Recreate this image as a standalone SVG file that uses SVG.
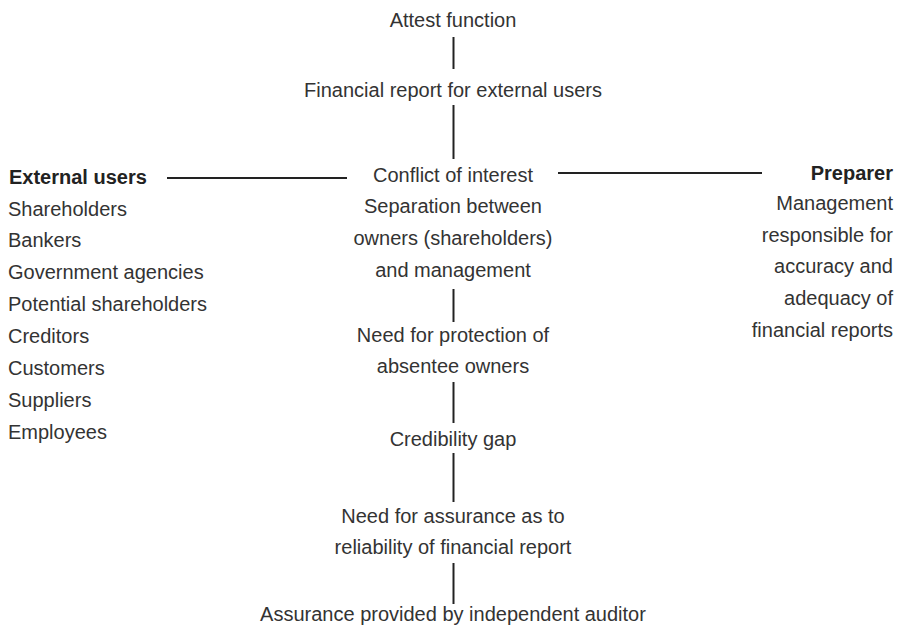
<svg xmlns="http://www.w3.org/2000/svg" width="899" height="626" viewBox="0 0 899 626">
<style>
text{font-family:"Liberation Sans",Arial,sans-serif;font-size:20px;fill:#333;}
.c{text-anchor:middle;}
.r{text-anchor:end;}
.b{font-weight:bold;fill:#222;}
.ln{stroke:#222;stroke-width:2;fill:none;}
</style>
<rect width="899" height="626" fill="#fff"/>
<g id="connectors">
<line class="ln" x1="453.5" y1="37" x2="453.5" y2="69"/>
<line class="ln" x1="453.5" y1="105" x2="453.5" y2="159"/>
<line class="ln" x1="453.5" y1="289" x2="453.5" y2="322"/>
<line class="ln" x1="453.5" y1="382" x2="453.5" y2="423"/>
<line class="ln" x1="453.5" y1="453" x2="453.5" y2="502"/>
<line class="ln" x1="453.5" y1="563" x2="453.5" y2="604"/>
<line class="ln" x1="167" y1="178" x2="347" y2="178"/>
<line class="ln" x1="558" y1="173" x2="762" y2="173"/>
</g>
<g id="attest"><text class="c" x="453" y="27">Attest function</text></g>
<g id="report"><text class="c" x="453" y="97">Financial report for external users</text></g>
<g id="conflict">
<text class="c" x="453" y="182">Conflict of interest</text>
<text class="c" x="453" y="213">Separation between</text>
<text class="c" x="453" y="245">owners (shareholders)</text>
<text class="c" x="453" y="277">and management</text>
</g>
<g id="protection">
<text class="c" x="453" y="342">Need for protection of</text>
<text class="c" x="453" y="373">absentee owners</text>
</g>
<g id="gap"><text class="c" x="453" y="446">Credibility gap</text></g>
<g id="need-assurance">
<text class="c" x="453" y="523">Need for assurance as to</text>
<text class="c" x="453" y="554">reliability of financial report</text>
</g>
<g id="assurance"><text class="c" x="453" y="621">Assurance provided by independent auditor</text></g>
<g id="external-users">
<text class="b" x="9" y="184">External users</text>
<text x="8" y="216">Shareholders</text>
<text x="8" y="247">Bankers</text>
<text x="8" y="279">Government agencies</text>
<text x="8" y="311">Potential shareholders</text>
<text x="8" y="343">Creditors</text>
<text x="8" y="375">Customers</text>
<text x="8" y="407">Suppliers</text>
<text x="8" y="439">Employees</text>
</g>
<g id="preparer">
<text class="r b" x="893" y="180">Preparer</text>
<text class="r" x="893" y="210">Management</text>
<text class="r" x="893" y="242">responsible for</text>
<text class="r" x="893" y="273">accuracy and</text>
<text class="r" x="893" y="305">adequacy of</text>
<text class="r" x="893" y="337">financial reports</text>
</g>
</svg>
